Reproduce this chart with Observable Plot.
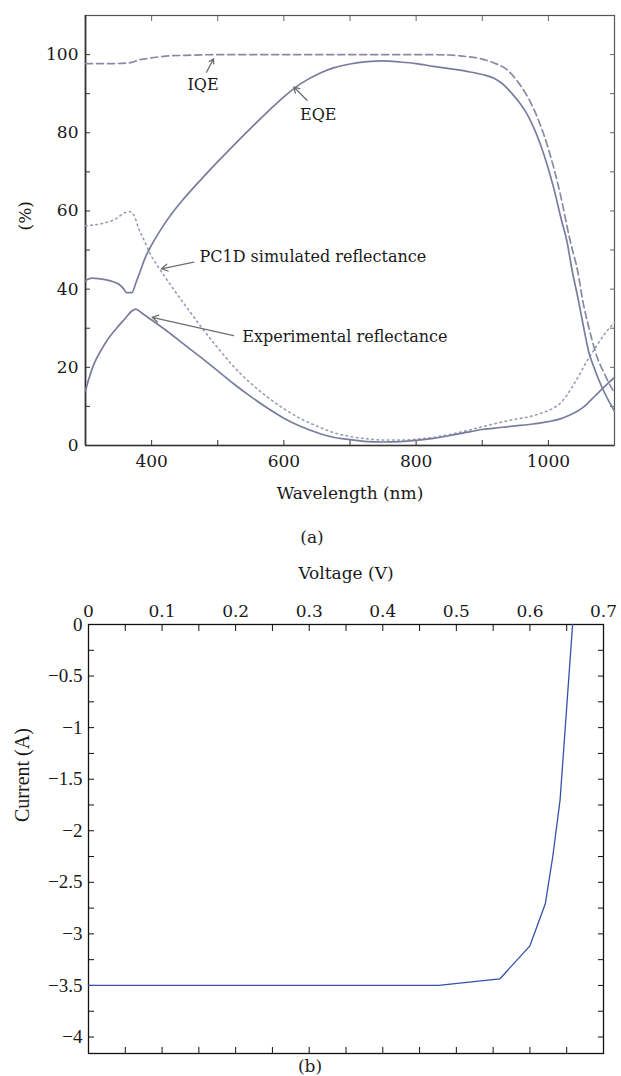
<!DOCTYPE html>
<html>
<head>
<meta charset="utf-8">
<script src="https://cdn.jsdelivr.net/npm/d3@7"></script>
<script src="https://cdn.jsdelivr.net/npm/@observablehq/plot@0.6"></script>
<style>
  html, body { margin: 0; padding: 0; background: #fff; }
  #wrap { position: relative; width: 621px; height: 1076px; overflow: hidden; }
  #pa, #pb { position: absolute; left: 0; }
  #pa { top: 0; }
  #pb { top: 555px; }
  .cap { position: absolute; font-family: "DejaVu Serif"; font-size: 17px; color: #222; transform: translate(-50%, -50%); }
</style>
</head>
<body>
<div id="wrap">
  <div id="pa"></div>
  <div id="pb"></div>
  <div class="cap" style="left:312px; top:537px;">(a)</div>
  <div class="cap" style="left:310px; top:1066px;">(b)</div>
</div>
<script>
// ---------- Panel (a): quantum efficiency and reflectance ----------
const iqeWl  = [300, 320, 340, 360, 370, 380, 393, 410, 430, 450, 500, 600, 700, 800, 850, 870, 897, 917, 937, 957, 977, 998, 1018, 1033, 1045, 1052, 1060, 1066, 1075, 1083, 1090, 1100];
const iqePct = [97.7, 97.7, 97.7, 97.8, 98.0, 98.6, 99.0, 99.4, 99.7, 99.8, 100, 100, 100, 100, 99.9, 99.6, 99.0, 97.9, 96.2, 92.3, 86.4, 77.0, 64.3, 52.3, 44.0, 37.0, 31.0, 27.0, 22.0, 19.0, 16.5, 13.5];

const eqeWl  = [300, 310, 320, 338, 350, 358, 362, 370, 376, 383, 391, 400, 416, 430, 446, 474, 500, 524, 550, 575, 600, 625, 655, 675, 700, 726, 750, 776, 800, 826, 850, 877, 900, 917, 930, 942, 955, 968, 988, 1008, 1020, 1028, 1036, 1045, 1053, 1061, 1070, 1081, 1090, 1100];
const eqePct = [42.2, 42.8, 42.7, 42.1, 41.3, 40.0, 39.1, 39.1, 41.5, 44.7, 48.3, 51.3, 55.8, 59.2, 62.6, 67.9, 72.6, 76.8, 81.2, 85.3, 89.2, 92.5, 95.3, 96.6, 97.6, 98.2, 98.4, 98.1, 97.7, 97.0, 96.4, 95.7, 94.9, 94.0, 92.6, 90.6, 88.0, 84.7, 77.0, 65.9, 57.5, 52.3, 44.7, 37.5, 30.5, 24.0, 19.5, 14.9, 11.8, 8.8];

const simWl  = [300, 330, 345, 360, 368, 373, 380, 390, 398, 408, 420, 431, 444, 451, 476, 501, 524, 550, 575, 600, 625, 655, 675, 700, 726, 750, 776, 800, 826, 850, 877, 900, 927, 950, 972, 990, 1008, 1018, 1028, 1038, 1048, 1053, 1063, 1073, 1085, 1100];
const simPct = [56.2, 57.0, 57.9, 59.6, 59.8, 59.0, 55.7, 52.0, 49.0, 46.2, 43.2, 40.5, 37.4, 35.8, 30.1, 24.8, 20.2, 15.9, 12.4, 9.4, 6.9, 4.6, 3.3, 2.3, 1.7, 1.4, 1.4, 1.6, 2.1, 2.8, 3.8, 4.8, 5.9, 6.7, 7.4, 8.3, 9.6, 10.8, 12.9, 15.5, 18.4, 20.0, 22.9, 25.5, 28.5, 31.5];

const expWl  = [300, 305, 312, 325, 333, 350, 360, 370, 376, 385, 400, 423, 451, 474, 500, 524, 550, 575, 600, 625, 655, 675, 700, 726, 750, 776, 800, 826, 850, 877, 900, 927, 950, 977, 1000, 1018, 1030, 1043, 1053, 1060, 1070, 1081, 1090, 1100];
const expPct = [14.0, 17.0, 20.5, 24.8, 27.0, 30.6, 32.5, 34.4, 34.9, 33.9, 32.1, 29.3, 25.6, 22.6, 19.1, 15.8, 12.5, 9.6, 7.0, 4.9, 3.0, 2.1, 1.5, 1.0, 0.9, 1.0, 1.3, 1.8, 2.5, 3.4, 4.1, 4.6, 5.0, 5.5, 6.1, 6.8, 7.6, 8.7, 9.8, 10.9, 12.6, 14.4, 15.9, 17.4];

const wlTickLabels  = [400, 600, 800, 1000];
const wlTickMarks   = [400, 500, 600, 700, 800, 900, 1000];
const pctTickLabels = [0, 20, 40, 60, 80, 100];
const pctTickMarks  = [10, 20, 30, 40, 50, 60, 70, 80, 90, 100];

// annotations (in data units: nm, %)
const centerNotes   = ["IQE", "EQE"];
const centerNoteWl  = [477.7, 652];
const centerNotePct = [92.3, 84.5];
const startNotes    = ["PC1D simulated reflectance", "Experimental reflectance"];
const startNoteWl   = [472.4, 537];
const startNotePct  = [48.2, 27.7];
const arrowFromWl   = [483, 635, 463.8, 523.8];
const arrowFromPct  = [95.5, 88.3, 46.9, 28.1];
const arrowToWl     = [493.6, 615, 415, 400.9];
const arrowToPct    = [98.9, 91.7, 45.2, 32.8];

// ---------- Panel (b): I-V curve ----------
const voltage = [0, 0.476, 0.559, 0.600, 0.621, 0.631, 0.641, 0.658];
const current = [-3.5, -3.5, -3.437, -3.116, -2.705, -2.252, -1.70, 0];
const voltTickLabels = [0, 0.1, 0.2, 0.3, 0.4, 0.5, 0.6, 0.7];
const voltTickMarks  = [0.05, 0.1, 0.15, 0.2, 0.25, 0.3, 0.35, 0.4, 0.45, 0.5, 0.55, 0.6, 0.65];
const currTickLabels = [0, -0.5, -1, -1.5, -2, -2.5, -3, -3.5, -4];
const currTickMarks  = [-0.25, -0.5, -0.75, -1, -1.25, -1.5, -1.75, -2, -2.25, -2.5, -2.75, -3, -3.25, -3.5, -3.75, -4];

const rows = (xs, ys) => xs.map((x, i) => ({x, y: ys[i]}));

const serif = "DejaVu Serif";
const noLabel = () => "";

const plotA = Plot.plot({
  width: 621, height: 555,
  marginTop: 15, marginBottom: 110, marginLeft: 85, marginRight: 7,
  style: {fontFamily: serif, fontSize: "17px", color: "#1a1a1a", background: "white", overflow: "visible"},
  x: {domain: [300, 1100]},
  y: {domain: [0, 110]},
  marks: [
    Plot.frame({stroke: "#555", strokeWidth: 1.2}),
    Plot.ruleX([300], {stroke: "#333", strokeWidth: 1.7}),
    Plot.ruleY([0], {stroke: "#333", strokeWidth: 1.7}),
    Plot.axisX(wlTickMarks, {anchor: "bottom", tickSize: -5, tickFormat: noLabel, label: null, stroke: "#333"}),
    Plot.axisX(wlTickMarks, {anchor: "top", tickSize: -5, tickFormat: noLabel, label: null, stroke: "#666"}),
    Plot.axisY(pctTickMarks, {anchor: "left", tickSize: -5, tickFormat: noLabel, label: null, stroke: "#333"}),
    Plot.axisY(pctTickMarks, {anchor: "right", tickSize: -5, tickFormat: noLabel, label: null, stroke: "#666"}),
    Plot.axisX(wlTickLabels, {anchor: "bottom", tickSize: 0, tickPadding: 9, tickFormat: d => String(d), label: null, fontSize: 17, fill: "#1a1a1a"}),
    Plot.axisY(pctTickLabels, {anchor: "left", tickSize: 0, tickPadding: 7, tickFormat: d => String(d), label: null, fontSize: 17, fill: "#1a1a1a"}),
    Plot.line(rows(simWl, simPct), {x: "x", y: "y", stroke: "#9a9cb2", strokeWidth: 1.6, strokeDasharray: "1.6,3.6", curve: "monotone-x"}),
    Plot.line(rows(expWl, expPct), {x: "x", y: "y", stroke: "#7a7c9e", strokeWidth: 1.7, curve: "monotone-x"}),
    Plot.line(rows(eqeWl, eqePct), {x: "x", y: "y", stroke: "#7a7c9e", strokeWidth: 1.7, curve: "monotone-x"}),
    Plot.line(rows(iqeWl, iqePct), {x: "x", y: "y", stroke: "#888aa4", strokeWidth: 1.7, strokeDasharray: "7,4", curve: "monotone-x"}),
    Plot.arrow(arrowFromWl.map((w, i) => ({x1: w, y1: arrowFromPct[i], x2: arrowToWl[i], y2: arrowToPct[i]})),
      {x1: "x1", y1: "y1", x2: "x2", y2: "y2", stroke: "#6e6e6e", strokeWidth: 1.3, headLength: 8, insetStart: 0, insetEnd: 0}),
    Plot.text(centerNotes, {x: centerNoteWl, y: centerNotePct, text: d => d, textAnchor: "middle", lineAnchor: "middle", fontSize: 16, fill: "#1a1a1a"}),
    Plot.text(startNotes, {x: startNoteWl, y: startNotePct, text: d => d, textAnchor: "start", lineAnchor: "middle", fontSize: 16, fill: "#1a1a1a"}),
    Plot.text(["Wavelength (nm)"], {text: d => d, frameAnchor: "bottom", dy: 48, lineAnchor: "middle", fontSize: 17, fill: "#1a1a1a"}),
    Plot.text(["(%)"], {text: d => d, frameAnchor: "left", dx: -60, rotate: -90, lineAnchor: "middle", fontSize: 17, fill: "#1a1a1a"})
  ]
});
document.getElementById("pa").append(plotA);

const plotB = Plot.plot({
  width: 621, height: 521,
  marginTop: 69, marginBottom: 23, marginLeft: 88, marginRight: 18,
  style: {fontFamily: serif, fontSize: "17px", color: "#1a1a1a", background: "white", overflow: "visible"},
  x: {domain: [0, 0.7]},
  y: {domain: [-4.16, 0]},
  marks: [
    Plot.frame({stroke: "#111", strokeWidth: 1.3}),
    Plot.axisX(voltTickMarks, {anchor: "top", tickSize: -6, tickFormat: noLabel, label: null, stroke: "#111"}),
    Plot.axisX(voltTickMarks, {anchor: "bottom", tickSize: -6, tickFormat: noLabel, label: null, stroke: "#111"}),
    Plot.axisY(currTickMarks, {anchor: "left", tickSize: -6, tickFormat: noLabel, label: null, stroke: "#111"}),
    Plot.axisY(currTickMarks, {anchor: "right", tickSize: -6, tickFormat: noLabel, label: null, stroke: "#111"}),
    Plot.axisX(voltTickLabels, {anchor: "top", tickSize: 0, tickPadding: 8, tickFormat: d => d === 0 ? "0" : d.toFixed(1), label: null, fontSize: 17, fill: "#1a1a1a"}),
    Plot.axisY(currTickLabels, {anchor: "left", tickSize: 0, tickPadding: 6, tickFormat: d => d === 0 ? "0" : "\u2212" + Math.abs(d), label: null, fontFamily: "Liberation Serif", fontSize: 19, fill: "#1a1a1a"}),
    Plot.line(rows(voltage, current), {x: "x", y: "y", stroke: "#3550a8", strokeWidth: 1.3}),
    Plot.text(["Voltage (V)"], {text: d => d, frameAnchor: "top", dy: -51, lineAnchor: "middle", fontSize: 17, fill: "#1a1a1a"}),
    Plot.text(["Current (A)"], {text: d => d, frameAnchor: "left", dx: -66, dy: -17, rotate: -90, lineAnchor: "middle", fontFamily: "Liberation Serif", fontSize: 20, fill: "#1a1a1a"})
  ]
});
document.getElementById("pb").append(plotB);
</script>
</body>
</html>
